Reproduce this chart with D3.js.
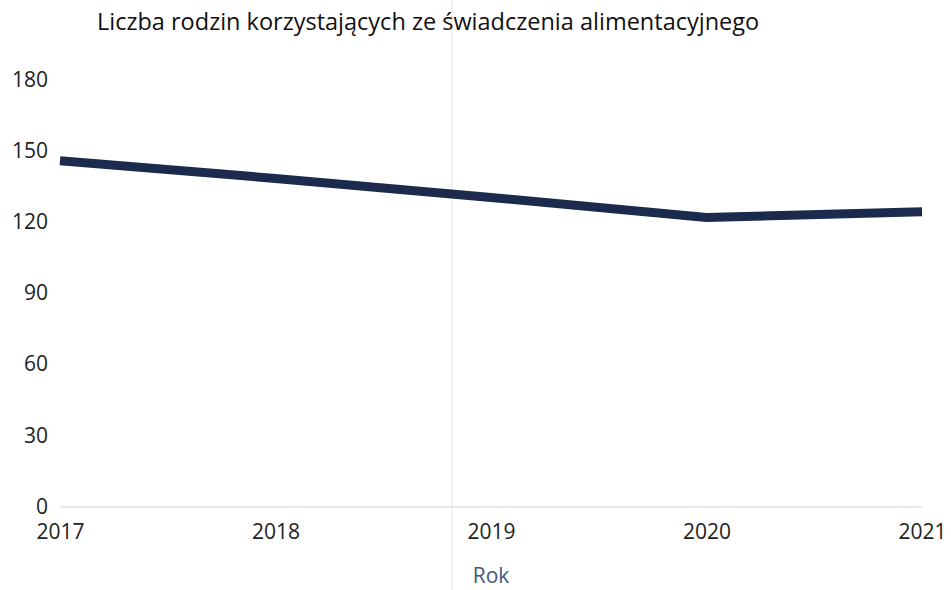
<!DOCTYPE html>
<html>
<head>
<meta charset="utf-8">
<script src="https://cdn.jsdelivr.net/npm/d3@7"></script>
<style>
  body { margin: 0; background: #fff; }
  svg text { font-family: "Open Sans", "Noto Sans", sans-serif; }
</style>
</head>
<body>
<script>
  // chart data
  const years = [2017, 2018, 2019, 2020, 2021];
  const families = [146, 138.5, 130.5, 122, 124.5];
  const yTicks = [0, 30, 60, 90, 120, 150, 180];
  const title = "Liczba rodzin korzystających ze świadczenia alimentacyjnego";
  const xTitle = "Rok";

  const width = 951, height = 590;
  const plot = {left: 60, right: 922, top: 80, bottom: 507};

  const svg = d3.select('body')
    .append('svg')
    .attr('width', width)
    .attr('height', height);

  let xScale = d3.scaleLinear()
    .domain(d3.extent(years))
    .range([plot.left, plot.right]);

  let yScale = d3.scaleLinear()
    .domain([0, 180])
    .range([plot.bottom, plot.top]);

  // faint vertical crease line seen in the scan
  svg.append('line')
    .attr('x1', 452).attr('x2', 452)
    .attr('y1', 0).attr('y2', height)
    .attr('stroke', '#e6e6e6')
    .attr('stroke-width', 1);

  // y axis labels (no ticks, no domain)
  let yAxis = d3.axisLeft(yScale).tickValues(yTicks).tickSize(0).tickPadding(12);
  let gy = svg.append('g')
    .attr('transform', 'translate(' + plot.left + ', 0)')
    .call(yAxis);
  gy.select('.domain').remove();
  gy.selectAll('text')
    .style('font-size', '21px')
    .attr('dy', '0.3em')
    .attr('fill', '#222');

  // baseline at zero
  svg.append('line')
    .attr('x1', plot.left).attr('x2', plot.right)
    .attr('y1', yScale(0)).attr('y2', yScale(0))
    .attr('stroke', '#d4d4d4')
    .attr('stroke-width', 1);

  // x axis labels
  let xAxis = d3.axisBottom(xScale).tickValues(years).tickFormat(d3.format('d')).tickSize(0).tickPadding(17);
  let gx = svg.append('g')
    .attr('transform', 'translate(0, ' + plot.bottom + ')')
    .call(xAxis);
  gx.select('.domain').remove();
  gx.selectAll('text')
    .style('font-size', '21px')
    .attr('fill', '#222');

  // line
  let line = d3.line()
    .x((d, i) => xScale(years[i]))
    .y((d) => yScale(d));

  svg.append('path')
    .datum(families)
    .attr('fill', 'none')
    .attr('stroke', '#1c2b4d')
    .attr('stroke-width', 9)
    .attr('stroke-linejoin', 'round')
    .attr('d', line);

  // title and axis label
  svg.append('text')
    .attr('x', 97)
    .attr('y', 30)
    .style('font-size', '23.5px')
    .style('font-weight', '500')
    .attr('fill', '#111')
    .text(title);

  svg.append('text')
    .attr('x', (plot.left + plot.right) / 2)
    .attr('y', 583)
    .attr('text-anchor', 'middle')
    .style('font-size', '21px')
    .attr('fill', '#3d5a80')
    .text(xTitle);
</script>
</body>
</html>
